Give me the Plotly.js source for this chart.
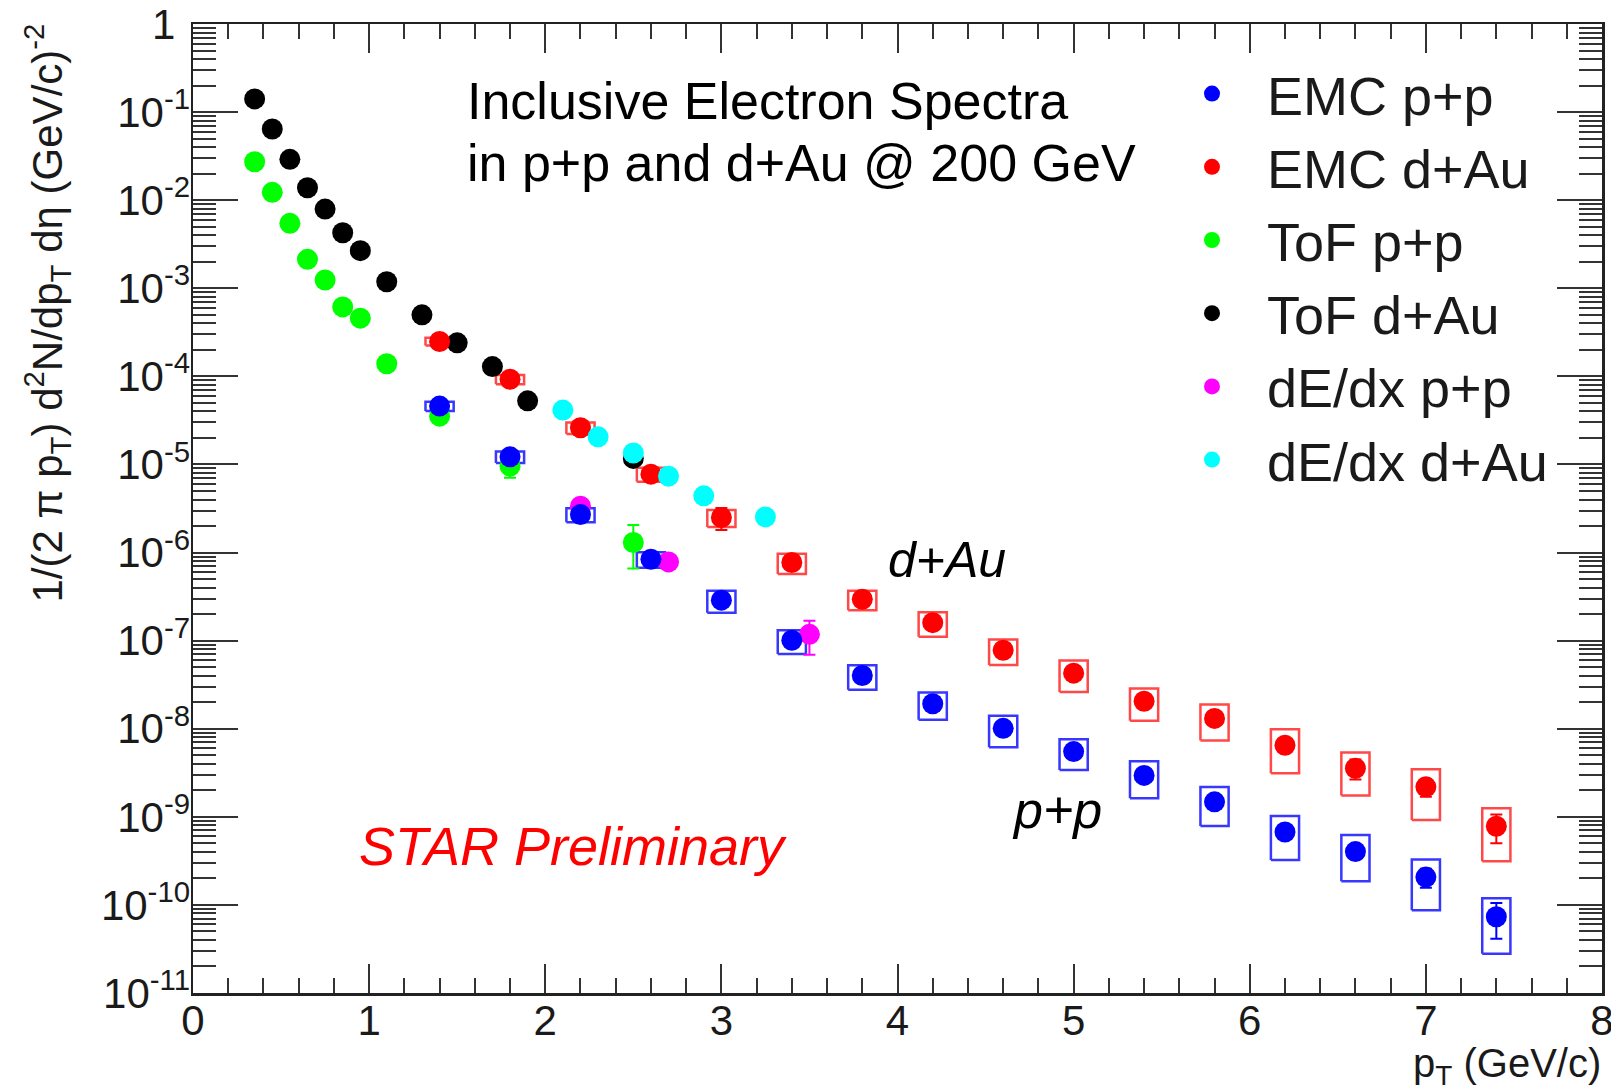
<!DOCTYPE html>
<html>
<head>
<meta charset="utf-8">
<script src="https://cdn.plot.ly/plotly-3.0.1.min.js"></script>
<style>
  html, body { margin: 0; padding: 0; background: #fff; }
  #chart { width: 1611px; height: 1091px; }
</style>
</head>
<body>
<div id="chart"></div>
<script>
// ---------------- data ----------------
// EMC (p+p and d+Au share the same pT bins)
const emcPt      = [1.4, 1.8, 2.2, 2.6, 3.0, 3.4, 3.8, 4.2, 4.6, 5.0, 5.4, 5.8, 6.2, 6.6, 7.0, 7.4];
const emcPP      = [4.6e-5, 1.22e-5, 2.7e-6, 8.4e-7, 2.88e-7, 1.01e-7, 4.02e-8, 1.92e-8, 1.01e-8, 5.5e-9, 2.95e-9, 1.48e-9, 6.73e-10, 4.03e-10, 2.07e-10, 7.33e-11];
const emcPPStat  = [1.0e-6, 4.0e-7, 1.2e-7, 5.0e-8, 2.0e-8, 8.0e-9, 3.0e-9, 1.5e-9, 8.0e-10, 5.0e-10, 3.0e-10, 1.8e-10, 1.0e-10, 7.0e-11, 5.0e-11, 3.2e-11];
const emcPPSys   = [0.12, 0.15, 0.18, 0.20, 0.28, 0.30, 0.31, 0.34, 0.39, 0.38, 0.45, 0.47, 0.52, 0.54, 0.58, 0.62];
const emcDA      = [2.49e-4, 9.27e-5, 2.61e-5, 7.76e-6, 2.5e-6, 7.71e-7, 2.95e-7, 1.6e-7, 7.78e-8, 4.27e-8, 2.05e-8, 1.31e-8, 6.49e-9, 3.56e-9, 2.19e-9, 7.81e-10];
const emcDAStat  = [8.0e-6, 4.0e-6, 1.5e-6, 6.0e-7, 7.0e-7, 1.0e-7, 3.0e-8, 1.6e-8, 8.0e-9, 5.0e-9, 2.5e-9, 1.8e-9, 1.0e-9, 9.0e-10, 5.0e-10, 2.8e-10];
const emcDASys   = [0.10, 0.12, 0.15, 0.18, 0.22, 0.26, 0.25, 0.31, 0.32, 0.39, 0.40, 0.44, 0.52, 0.51, 0.58, 0.60];

// ToF p+p
const tofPPPt    = [0.35, 0.45, 0.55, 0.65, 0.75, 0.85, 0.95, 1.1, 1.4, 1.8, 2.5];
const tofPP      = [0.0273, 0.01227, 0.00546, 0.00213, 0.00124, 6.14e-4, 4.58e-4, 1.39e-4, 3.53e-5, 9.57e-6, 1.3e-6];
const tofPPUp    = [0, 0, 0, 0, 0, 0, 0, 0, 1.5e-6, 1.0e-6, 7.5e-7];
const tofPPDown  = [0, 0, 0, 0, 0, 0, 0, 0, 1.5e-6, 2.5e-6, 6.4e-7];

// ToF d+Au
const tofDAPt    = [0.35, 0.45, 0.55, 0.65, 0.75, 0.85, 0.95, 1.1, 1.3, 1.5, 1.7, 1.9, 2.5];
const tofDA      = [0.141, 0.0643, 0.0291, 0.01384, 0.00793, 0.00427, 0.00267, 0.001186, 4.99e-4, 2.4e-4, 1.29e-4, 5.27e-5, 1.17e-5];

// dE/dx p+p
const dedxPPPt   = [2.2, 2.7, 3.5];
const dedxPP     = [3.36e-6, 7.83e-7, 1.18e-7];
const dedxPPUp   = [1.0e-7, 3.0e-8, 5.0e-8];
const dedxPPDown = [1.0e-7, 3.0e-8, 4.9e-8];

// dE/dx d+Au
const dedxDAPt   = [2.1, 2.3, 2.5, 2.7, 2.9, 3.25];
const dedxDA     = [4.14e-5, 2.06e-5, 1.35e-5, 7.36e-6, 4.4e-6, 2.54e-6];

// axis ticks
const yTickVals  = [1e-11, 1e-10, 1e-9, 1e-8, 1e-7, 1e-6, 1e-5, 1e-4, 1e-3, 1e-2, 1e-1, 1];
const yTickExp   = ['-11', '-10', '-9', '-8', '-7', '-6', '-5', '-4', '-3', '-2', '-1', ''];
const xTickVals  = [0, 1, 2, 3, 4, 5, 6, 7, 8];
const xTickText  = ['0', '1', '2', '3', '4', '5', '6', '7', '8'];

// ---------------- styling / layout helpers ----------------
const W = 1611, H = 1091, ML = 193, MR = 9, MT = 24, MB = 98;
const fx = px => (px - ML) / (W - ML - MR);
const fy = py => 1 - (py - MT) / (H - MT - MB);
const FONT = 'Liberation Sans, Arial, Helvetica, sans-serif';
const TXT = '#1a1a1a';
const MS = 21;
const BOX_HW = 0.08;

// "1" gets a blank superscript so it sits slightly left of the powers of ten, as in the reference
const yTickText = yTickExp.map(e => e === '' ? '1<sup>\u2002</sup>' : '10<sup>' + e + '</sup>');

function sysBoxes(xs, ys, fr) {
  const bx = [], by = [];
  xs.forEach((x, i) => {
    const lo = ys[i] * (1 - fr[i]), hi = ys[i] * (1 + fr[i]);
    bx.push(x - BOX_HW, x + BOX_HW, x + BOX_HW, x - BOX_HW, x - BOX_HW, null);
    by.push(lo, lo, hi, hi, lo, null);
  });
  return {x: bx, y: by};
}

function pts(name, x, y, color, rank, err) {
  const t = {
    type: 'scatter', mode: 'markers', name: name, x: x, y: y,
    legendrank: rank,
    marker: {color: color, size: MS, symbol: 'circle', line: {width: 0}},
    hoverinfo: 'x+y+name'
  };
  if (err) {
    t.error_y = {type: 'data', symmetric: false, array: err.up, arrayminus: err.down,
                 color: color, thickness: 2, width: 6, visible: true};
  }
  return t;
}

const bPP = sysBoxes(emcPt, emcPP, emcPPSys);
const bDA = sysBoxes(emcPt, emcDA, emcDASys);

const traces = [
  {type: 'scatter', mode: 'lines', x: bPP.x, y: bPP.y, showlegend: false, hoverinfo: 'skip',
   line: {color: 'rgba(20,20,255,0.85)', width: 2.5}},
  {type: 'scatter', mode: 'lines', x: bDA.x, y: bDA.y, showlegend: false, hoverinfo: 'skip',
   line: {color: 'rgba(255,40,40,0.85)', width: 2.5}},
  pts('ToF p+p', tofPPPt, tofPP, '#00ff00', 3, {up: tofPPUp, down: tofPPDown}),
  pts('ToF d+Au', tofDAPt, tofDA, '#000000', 4),
  pts('dE/dx p+p', dedxPPPt, dedxPP, '#ff00ff', 5, {up: dedxPPUp, down: dedxPPDown}),
  pts('EMC d+Au', emcPt, emcDA, '#ff0000', 2, {up: emcDAStat, down: emcDAStat}),
  pts('dE/dx d+Au', dedxDAPt, dedxDA, '#00ffff', 6),
  pts('EMC p+p', emcPt, emcPP, '#0000ff', 1, {up: emcPPStat, down: emcPPStat})
];

const axisCommon = {
  showline: true, linecolor: '#222', linewidth: 2.5, mirror: 'allticks',
  ticks: 'inside', tickcolor: '#333', tickwidth: 2,
  showgrid: false, zeroline: false, automargin: false,
  ticklabeloverflow: 'allow',
  tickfont: {family: FONT, size: 42, color: TXT}
};

const layout = {
  width: W, height: H,
  margin: {l: ML, r: MR, t: MT, b: MB, pad: 0},
  paper_bgcolor: '#ffffff', plot_bgcolor: '#ffffff',
  font: {family: FONT, color: TXT},
  showlegend: true,
  xaxis: Object.assign({}, axisCommon, {
    range: [0, 8], tickmode: 'array', tickvals: xTickVals, ticktext: xTickText,
    ticklen: 29, ticklabelstandoff: -11,
    minor: {ticks: 'inside', dtick: 0.2, tick0: 0, ticklen: 15, tickwidth: 2, tickcolor: '#333', showgrid: false}
  }),
  yaxis: Object.assign({}, axisCommon, {
    type: 'log', range: [-11, 0], tickmode: 'array', tickvals: yTickVals, ticktext: yTickText,
    ticklen: 45, ticklabelstandoff: -8,
    tickfont: {family: FONT, size: 42, color: TXT},
    minor: {ticks: 'inside', dtick: 'D1', ticklen: 23, tickwidth: 2, tickcolor: '#333', showgrid: false}
  }),
  legend: {
    x: fx(1157), y: fy(52), xanchor: 'left', yanchor: 'top',
    font: {family: FONT, size: 54, color: TXT},
    bgcolor: 'rgba(0,0,0,0)', borderwidth: 0, itemwidth: 100,
    traceorder: 'normal'
  },
  annotations: [
    {text: 'Inclusive Electron Spectra', xref: 'paper', yref: 'paper', x: fx(465), y: fy(101),
     xanchor: 'left', yanchor: 'middle', showarrow: false, font: {family: FONT, size: 52, color: '#000'}},
    {text: 'in p+p and d+Au @ 200 GeV', xref: 'paper', yref: 'paper', x: fx(465), y: fy(163),
     xanchor: 'left', yanchor: 'middle', showarrow: false, font: {family: FONT, size: 52, color: '#000'}},
    {text: '<i>d+Au</i>', xref: 'paper', yref: 'paper', x: fx(886), y: fy(560),
     xanchor: 'left', yanchor: 'middle', showarrow: false, font: {family: FONT, size: 50, color: '#000'}},
    {text: '<i>p+p</i>', xref: 'paper', yref: 'paper', x: fx(1010), y: fy(810),
     xanchor: 'left', yanchor: 'middle', showarrow: false, font: {family: FONT, size: 52, color: '#000'}},
    {text: '<i>STAR Preliminary</i>', xref: 'paper', yref: 'paper', x: fx(357), y: fy(846),
     xanchor: 'left', yanchor: 'middle', showarrow: false, font: {family: FONT, size: 54, color: '#ff0000'}},
    {text: 'p<sub>T</sub> (GeV/c)', xref: 'paper', yref: 'paper', x: fx(1602), y: fy(1066),
     xanchor: 'right', yanchor: 'middle', showarrow: false, borderpad: 0,
     font: {family: FONT, size: 40, color: TXT}},
    {text: '1/(2 π p<sub>T</sub>) d<sup>2</sup>N/dp<sub>T</sub> dη (GeV/c)<sup>-2</sup>', xref: 'paper', yref: 'paper',
     x: fx(47), y: fy(22), xanchor: 'center', yanchor: 'top', textangle: -90, showarrow: false,
     font: {family: FONT, size: 42, color: TXT}}
  ]
};

Plotly.newPlot('chart', traces, layout, {displayModeBar: false, staticPlot: true});
</script>
</body>
</html>
